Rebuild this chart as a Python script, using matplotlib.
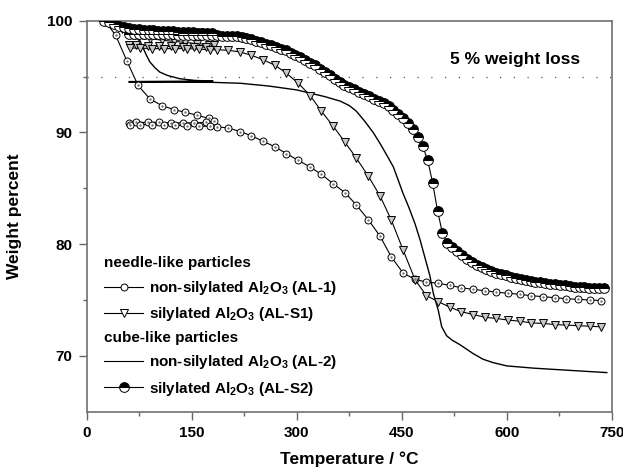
import numpy as np
import matplotlib
matplotlib.use('Agg')
import matplotlib.pyplot as plt
from matplotlib.lines import Line2D

plt.rcParams['font.family'] = 'Liberation Sans'
plt.rcParams['font.weight'] = 'bold'
plt.rcParams['mathtext.fontset'] = 'custom'
plt.rcParams['mathtext.rm'] = 'Liberation Sans:bold'
plt.rcParams['mathtext.it'] = 'Liberation Sans:bold'
plt.rcParams['mathtext.bf'] = 'Liberation Sans:bold'

# needle-like, non-silylated (AL-1): heating to 180, cooling back to 60, reheating
t_al1 = [25, 41, 57, 73, 90, 107, 124, 140, 157, 174, 181,
         170, 153, 137, 120, 103, 87, 70, 60,
         62, 76, 93, 110, 126, 143, 160, 176, 186,
         202, 219, 235, 252, 269, 285, 302, 319, 335, 352, 369, 385, 402, 419,
         435, 452, 469, 485, 502, 519, 535, 552, 569, 585, 602, 619, 635, 652,
         669, 685, 702, 719, 735]
w_al1 = [100, 98.7, 96.4, 94.2, 93.0, 92.4, 92.05, 91.8, 91.55, 91.25, 91.05,
         90.9, 90.85, 90.85, 90.85, 90.9, 90.9, 90.9, 90.85,
         90.7, 90.7, 90.7, 90.65, 90.65, 90.6, 90.55, 90.55, 90.5,
         90.4, 90.07, 89.7, 89.2, 88.7, 88.1, 87.5, 86.9, 86.25, 85.4, 84.6, 83.5, 82.2, 80.7,
         78.85, 77.4, 76.85, 76.6, 76.5, 76.3, 76.1, 75.95, 75.83, 75.7, 75.6, 75.5, 75.38, 75.3,
         75.2, 75.12, 75.05, 75.0, 74.95]

# needle-like, silylated (AL-S1)
t_als1 = [25, 37, 50, 57, 73, 90, 107, 124, 140, 157, 174, 181,
          170, 153, 137, 120, 103, 87, 70, 60,
          62, 76, 93, 110, 126, 143, 160, 176, 186,
          202, 219, 235, 252, 269, 285, 302, 319, 335, 352, 369, 385, 402, 419,
          435, 452, 469, 485, 502, 519, 535, 552, 569, 585, 602, 619, 635, 652,
          669, 685, 702, 719, 735]
w_als1 = [100, 99.7, 99.3, 98.9, 98.65, 98.4, 98.25, 98.15, 98.05, 97.95, 97.85, 97.8,
          97.65, 97.65, 97.65, 97.7, 97.7, 97.75, 97.8, 97.8,
          97.55, 97.55, 97.5, 97.5, 97.5, 97.5, 97.45, 97.4, 97.4,
          97.35, 97.2, 96.9, 96.5, 96.0, 95.3, 94.4, 93.3, 91.9, 90.55, 89.1, 87.7, 86.1, 84.3,
          82.15, 79.45, 76.8, 75.4, 74.85, 74.35, 73.95, 73.7, 73.45, 73.35, 73.2, 73.1, 72.95, 72.9,
          72.8, 72.75, 72.7, 72.65, 72.6]

# cube-like, non-silylated (AL-2), line only
t_al2 = [25, 40, 55, 65, 75, 80, 85, 90, 97, 104, 115, 133, 155, 180,
         60, 60, 180, 219, 260, 300, 320, 340, 362, 375, 385, 397, 409, 419, 430,
         438, 452, 460, 469, 476, 483, 490, 495, 502, 507, 514, 522, 533, 552,
         566, 580, 600, 638, 690, 743]
w_al2 = [100, 99.5, 99.0, 98.7, 98.3, 97.6, 96.9, 96.3, 95.8, 95.4, 95.1, 94.8, 94.65, 94.6,
         94.55, 94.5, 94.48, 94.4, 94.15, 93.8, 93.5, 93.2, 92.8, 92.4, 91.9, 91.0, 90.0, 89.0, 87.8,
         86.9, 84.5, 83.3, 81.8, 80.4, 78.8, 77.2, 75.6, 74.1, 72.6, 71.8, 71.4, 71.0, 70.2,
         69.7, 69.4, 69.1, 68.9, 68.7, 68.5]

# cube-like, silylated (AL-S2)
t_als2 = [25, 32, 39, 46, 53, 60, 67, 74, 81, 88, 95, 102, 109, 116, 123, 130, 137, 144,
          151, 158, 165, 172, 179,
          165, 151, 137, 123, 109, 95, 81, 67,
          60, 67, 74, 81, 88, 95, 102, 109, 116, 123, 130, 137, 144, 151, 158, 165, 172, 179,
          186, 193, 200, 207, 214, 221, 228, 235, 242, 249, 256, 263, 270, 277, 284, 291,
          298, 305, 312, 319, 326, 333, 340, 347, 354, 361, 368, 375, 382, 389, 396, 403,
          410, 417, 424, 431, 438, 445, 452, 459, 466, 473, 480, 487, 494, 501, 508, 515,
          522, 529, 536, 543, 550, 557, 564, 571, 578, 585, 592, 599, 606, 613, 620, 627,
          634, 641, 648, 655, 662, 669, 676, 683, 690, 697, 704, 711, 718, 725, 732, 739]
w_als2 = [100, 99.85, 99.7, 99.55, 99.45, 99.35, 99.3, 99.25, 99.2, 99.18, 99.15, 99.12, 99.1,
          99.08, 99.05, 99.03, 99.0, 98.98, 98.96, 98.94, 98.92, 98.9, 98.88,
          98.87, 98.86, 98.86, 98.85, 98.85, 98.84, 98.83, 98.82,
          98.8, 98.8, 98.8, 98.8, 98.8, 98.8, 98.8, 98.8, 98.78, 98.78, 98.76, 98.76, 98.75,
          98.74, 98.73, 98.72, 98.71, 98.7,
          98.68, 98.66, 98.64, 98.62, 98.6, 98.55, 98.45, 98.35, 98.2, 98.1, 97.95, 97.8,
          97.65, 97.5, 97.35, 97.15, 96.95, 96.75, 96.5, 96.25, 96.0, 95.7, 95.4, 95.1, 94.8,
          94.5, 94.25, 94.05, 93.85, 93.65, 93.45, 93.25, 93.0, 92.8, 92.6, 92.35, 92.0, 91.65,
          91.25, 90.85, 90.3, 89.55, 88.75, 87.5, 85.5, 83.0, 81.0, 80.1, 79.75, 79.4, 79.0,
          78.7, 78.4, 78.15, 77.95, 77.75, 77.6, 77.45, 77.3, 77.2, 77.1, 77.0, 76.9, 76.8,
          76.7, 76.63, 76.57, 76.5, 76.45, 76.4, 76.35, 76.3, 76.25, 76.2, 76.17, 76.13, 76.1,
          76.08, 76.05, 76.03]

loss_level = 95
x_ticks = [0, 150, 300, 450, 600, 750]
y_ticks = [70, 80, 90, 100]

fig = plt.figure(figsize=(6.23, 4.67), dpi=100)
ax = fig.add_axes([0.1396, 0.1184, 0.8423, 0.8373])

ax.axhline(loss_level, color='#555555', lw=0.9, ls=(0, (1, 10)), zorder=1)

ax.plot(t_al2, w_al2, color='black', lw=1.0, zorder=2)
ax.plot(t_al1, w_al1, color='black', lw=0.8, marker='o', ms=5, mfc='white',
        mec='black', mew=0.7, zorder=3)
ax.plot(t_al1, w_al1, ls='none', marker='.', ms=1.5, color='#777777', zorder=4)
ax.plot(t_als1, w_als1, color='black', lw=0.8, marker='v', ms=6, mfc='#c8c8c8',
        mec='black', mew=0.7, zorder=3)
ax.plot(t_als2, w_als2, color='black', lw=0.8, marker='o', ms=7, fillstyle='top',
        mfc='black', mfcalt='white', mec='black', mew=0.7, zorder=5)

ax.text(705, 96.5, '5 % weight loss', ha='right', va='center', fontsize=12.5,
        fontweight='bold')

ax.set_xlim(0, 750)
ax.set_ylim(65, 100)
ax.set_xticks(x_ticks)
ax.set_yticks(y_ticks)
ax.set_xticks([75, 225, 375, 525, 675], minor=True)
ax.set_yticks([75, 85, 95], minor=True)
ax.tick_params(which='major', direction='out', length=5.5, width=1, color='#666666',
               labelsize=11, pad=5)
ax.tick_params(which='minor', direction='out', length=3, width=1, color='#666666')
for lab in ax.get_xticklabels() + ax.get_yticklabels():
    lab.set_fontweight('bold')
for s in ax.spines.values():
    s.set_color('#707070')
    s.set_linewidth(1.2)

ax.set_xlabel('Temperature / °C', fontsize=12.5, fontweight='bold', labelpad=8)
ax.set_ylabel('Weight percent', fontsize=12.5, fontweight='bold', labelpad=18)

h1 = [Line2D([], [], color='black', lw=0.8, marker='o', ms=5, mfc='white', mec='black', mew=0.7),
      Line2D([], [], color='black', lw=0.8, marker='v', ms=6, mfc='white', mec='black', mew=0.7)]
l1 = ['non-silylated Al$_2$O$_3$ (AL-1)', 'silylated Al$_2$O$_3$ (AL-S1)']
h2 = [Line2D([], [], color='black', lw=0.8),
      Line2D([], [], color='black', lw=0.8, marker='o', ms=7, fillstyle='top',
             mfc='black', mfcalt='white', mec='black', mew=0.7)]
l2 = ['non-silylated Al$_2$O$_3$ (AL-2)', 'silylated Al$_2$O$_3$ (AL-S2)']

leg_kw = dict(frameon=False, fontsize=11, handlelength=2.6, handletextpad=0.35,
              labelspacing=0.55, borderpad=0, borderaxespad=0, alignment='left',
              title_fontproperties={'weight': 'bold', 'size': 11})
leg1 = ax.legend(h1, l1, title='needle-like particles', loc='upper left',
                 bbox_to_anchor=(0.032, 0.397), **leg_kw)
ax.add_artist(leg1)
leg2 = ax.legend(h2, l2, title='cube-like particles', loc='upper left',
                 bbox_to_anchor=(0.032, 0.207), **leg_kw)
for leg in (leg1, leg2):
    for t in leg.get_texts():
        t.set_fontweight('bold')

fig.savefig('out.png', dpi=100)
